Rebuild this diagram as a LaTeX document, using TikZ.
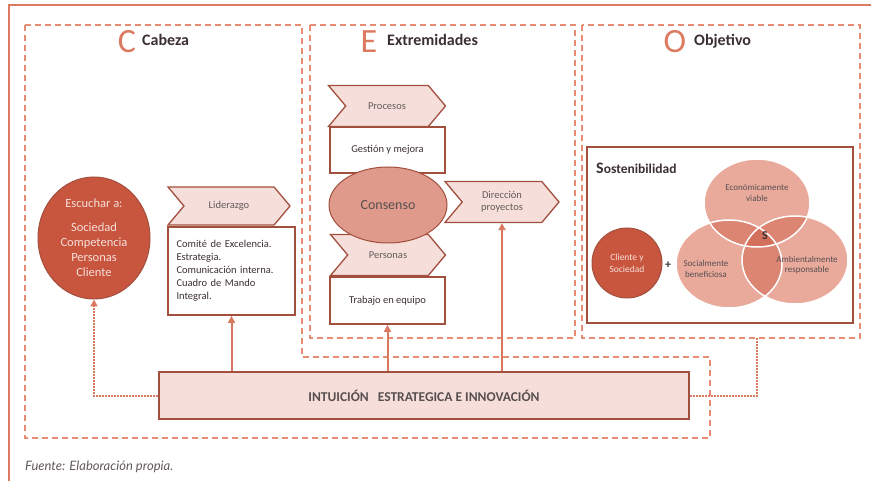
\documentclass[tikz,border=0pt]{standalone}
\usepackage{fontspec}
\setmainfont{Carlito}
\newfontfamily\notefont{Lato}
\usetikzlibrary{shapes.geometric,shapes.symbols,arrows.meta,positioning}
\definecolor{framecol}{HTML}{DB7A60}
\definecolor{zonecol}{HTML}{E68C72}
\definecolor{brd}{HTML}{A24F3E}
\definecolor{deep}{HTML}{C8553E}
\definecolor{pale}{HTML}{F6DFDA}
\definecolor{mid}{HTML}{DF9A8B}
\definecolor{venna}{HTML}{E9AA9C}
\definecolor{vennb}{HTML}{DC8573}
\definecolor{vennc}{HTML}{D3705C}
\definecolor{ink}{HTML}{3B3031}
\definecolor{arr}{HTML}{D9785E}
\begin{document}
\begin{tikzpicture}[x=1pt,y=-1pt,
  zone/.style={draw=zonecol, line width=1.4pt, dash pattern=on 6pt off 4pt},
  chev/.style={shape=signal, signal from=west, signal to=east, signal pointer angle=100,
    draw=brd, line width=1.3pt, fill=pale, text=ink!80, inner sep=0pt,
    font=\fontsize{10.5}{12}\selectfont},
  panel/.style={draw=brd, line width=1.8pt, fill=white, text=ink, inner sep=0pt,
    font=\fontsize{10.5}{13}\selectfont},
  bubble/.style={ellipse, draw=brd, line width=1pt, fill=deep, text=pale, align=center, inner sep=0pt},
  bigletter/.style={text=framecol, font=\fontsize{34}{34}\selectfont, inner sep=0pt, anchor=base},
  heading/.style={text=ink, font=\bfseries\fontsize{16}{16}\selectfont, inner sep=0pt, anchor=base west},
  vlabel/.style={text=ink!85, align=center, inner sep=0pt, font=\fontsize{9}{10.5}\selectfont},
  feed/.style={->, draw=arr, line width=2pt},
  loopback/.style={draw=arr, line width=2pt, densely dotted},
  >={Triangle[length=7pt,width=7pt]}]
\useasboundingbox (0,0) rectangle (871,481);

% frame and zones
\draw[framecol, line width=1.6pt] (9,481) -- (9,5) -- (871,5);
\draw[zone] (25,25) -- (302,25) -- (302,357) -- (710,357) -- (710,438) -- (25,438) -- cycle;
\draw[zone] (310,25) rectangle (575,338);
\draw[zone] (582,25) rectangle (860,338);

% titles
\node[bigletter] (cl) at (127,53) {C};
\node[heading] (ch) at (142,46) {Cabeza};
\node[bigletter] (el) at (369,53) {E};
\node[heading] (eh) at (387,46) {Extremidades};
\node[bigletter] (ol) at (675,53) {O};
\node[heading] (oh) at (694,46) {Objetivo};

% Cabeza
\node[bubble, minimum width=112, minimum height=122, font=\fontsize{12.5}{15}\selectfont] (esc) at (94,238)
  {Escuchar a:\\[9pt]Sociedad\\Competencia\\Personas\\Cliente};
\node[chev, minimum width=122, minimum height=38] (lid) at (229,206) {Liderazgo};
\node[panel, minimum width=127, minimum height=88, text width=110, align=left] (lidbox) at (231.5,271)
  {Comité de Excelencia.\\Estrategia.\\Comunicación interna.\\Cuadro de Mando\\Integral.};

% Extremidades
\node[chev, minimum width=117, minimum height=41] (proc) at (387,106) {Procesos};
\node[panel, minimum width=115, minimum height=46] (gest) at (387.5,150) {Gestión y mejora};
\node[chev, minimum width=115, minimum height=41] (pers) at (388,255) {Personas};
\node[panel, minimum width=115, minimum height=47] (trab) at (387.5,300.5) {Trabajo en equipo};
\node[bubble, fill=mid, text=ink!85, minimum width=118, minimum height=76, font=\fontsize{14}{14}\selectfont] (cons) at (388,205) {Consenso};
\node[chev, minimum width=114, minimum height=41, align=center] (dir) at (502,202) {Dirección\\proyectos};

% Objetivo
\node[draw=brd, line width=1.5pt, minimum width=266, minimum height=176, inner sep=0pt] (sost) at (720,235) {};
\node[anchor=base west, text=ink, inner sep=0pt, font=\bfseries\fontsize{13.5}{14}\selectfont] (sosttitle) at (596,174)
  {{\fontsize{16}{16}\selectfont S}ostenibilidad};
\fill[venna] (757,203) ellipse [x radius=53, y radius=44];
\fill[venna] (729,264) ellipse [x radius=53, y radius=44];
\fill[venna] (795,260) ellipse [x radius=53, y radius=44];
\begin{scope}
  \clip (757,203) ellipse [x radius=53, y radius=44];
  \fill[vennb] (729,264) ellipse [x radius=53, y radius=44];
  \fill[vennb] (795,260) ellipse [x radius=53, y radius=44];
\end{scope}
\begin{scope}
  \clip (729,264) ellipse [x radius=53, y radius=44];
  \fill[vennb] (795,260) ellipse [x radius=53, y radius=44];
\end{scope}
\begin{scope}
  \clip (757,203) ellipse [x radius=53, y radius=44];
  \clip (729,264) ellipse [x radius=53, y radius=44];
  \fill[vennc] (795,260) ellipse [x radius=53, y radius=44];
\end{scope}
\draw[white, line width=1.5pt] (757,203) ellipse [x radius=53, y radius=44];
\draw[white, line width=1.5pt] (729,264) ellipse [x radius=53, y radius=44];
\draw[white, line width=1.5pt] (795,260) ellipse [x radius=53, y radius=44];
\node[vlabel] (econ) at (757,193) {Económicamente\\viable};
\node[vlabel] (soc) at (706,269) {Socialmente\\beneficiosa};
\node[vlabel] (amb) at (807,265) {Ambientalmente\\responsable};
\node[text=ink, inner sep=0pt, font=\bfseries\fontsize{12}{12}\selectfont] (s) at (765,236) {S};
\node[bubble, minimum size=70, font=\fontsize{9.5}{11.5}\selectfont] (cli) at (627,263) {Cliente y\\Sociedad};
\node[text=ink, inner sep=0pt, font=\bfseries\fontsize{12}{12}\selectfont] (plus) at (668,265) {+};

% base
\node[draw=brd, line width=1.8pt, fill=pale, minimum width=530, minimum height=47, inner sep=0pt,
  text=ink!85, font=\bfseries\fontsize{13.5}{14}\selectfont] (intu) at (424,395.5)
  {INTUICIÓN\hspace{9pt}ESTRATEGICA E INNOVACIÓN};
\coordinate (obot) at (757,338);

\draw[feed] (intu.north -| lidbox.south) -- (lidbox.south);
\draw[feed] (intu.north -| trab.south) -- (trab.south);
\draw[feed] (intu.north -| dir.south) -- (dir.south);
\draw[loopback, ->] (intu.west) -| (esc.south);
\draw[loopback] (intu.east) -| (obot);

\node[anchor=base west, inner sep=0pt, text=ink!80, font=\notefont\itshape\fontsize{13}{13}\selectfont] (src) at (25,470)
  {Fuente: Elaboración propia.};
\end{tikzpicture}
\end{document}
